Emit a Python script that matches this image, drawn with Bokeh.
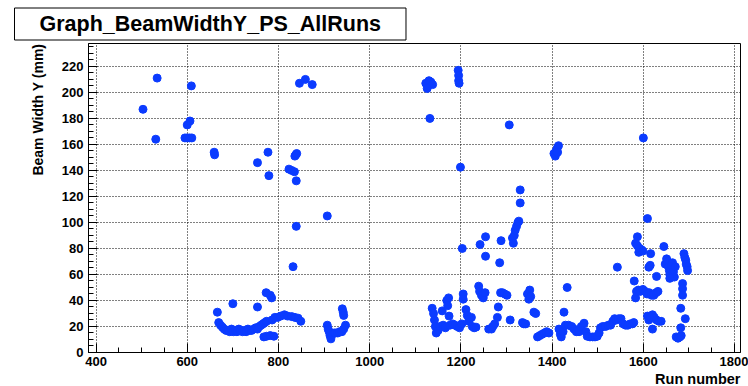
from bokeh.plotting import figure
from bokeh.models import Range1d, SingleIntervalTicker, Title, ColumnDataSource
from bokeh.embed import file_html
from bokeh.resources import INLINE

# Beam width (Y) measured by the PS monitor, one entry per run
run_early = [503, 531, 534, 595, 600, 605, 610, 600, 606, 609, 659, 660]
width_early = [187, 164, 211, 165, 165, 165, 165, 175, 178, 205, 154, 152]

run_700 = [666, 669, 673, 677, 681, 685, 689, 693, 697, 701, 705, 709, 713, 717, 721, 725,
           729, 733, 737, 741, 746, 750, 754, 758, 762, 766, 770, 774,
           700, 754, 754, 773, 777, 779, 782, 785,
           768, 774, 782, 790,
           786, 792, 798, 805, 813, 820, 829, 836, 843, 849,
           823, 829, 835, 839, 836, 838, 840, 839, 832, 846, 859, 874, 907]
width_700 = [31, 23, 21, 19.5, 18, 17, 17, 16, 18, 16, 17, 16, 18, 17, 16, 17,
             16, 18, 17, 17, 18, 19, 18, 20, 21, 22, 23, 24,
             37.5, 35, 146, 46, 154, 136, 44, 42,
             12, 12.5, 13, 12.5,
             25, 27, 27, 28, 29, 28, 27.6, 27, 26.4, 24,
             141, 140, 139, 132, 151, 152, 153, 97, 66, 207, 210, 206, 105]

run_900 = [907, 909, 911, 913, 915, 918, 922, 925, 930, 934, 939, 943, 947, 940, 942, 943]
width_900 = [21, 18, 16, 13, 10.5, 14, 15, 15, 15, 16, 16, 18, 21, 33.6, 31, 28.5]

run_1100_high = [1123, 1127, 1130, 1134, 1138, 1126, 1132, 1194, 1195, 1195, 1196, 1199, 1203]
width_1100_high = [207, 205, 209, 208, 206, 203, 180, 217, 213, 209, 207, 142.5, 80]

run_1100_low = [1137, 1140, 1142, 1144, 1146, 1150, 1154, 1159, 1161, 1166, 1169, 1171, 1173,
                1174, 1176, 1182, 1187, 1192, 1197, 1202, 1205, 1205, 1211, 1214, 1217, 1219,
                1223, 1225, 1229, 1233, 1239, 1241, 1245, 1249, 1253, 1261, 1267, 1270, 1274,
                1280, 1282, 1287, 1291, 1296, 1301, 1308, 1335, 1338, 1342, 1346, 1349, 1351,
                1353, 1360, 1364, 1368, 1373, 1378, 1383, 1388, 1393, 1415, 1418, 1420, 1424,
                1426, 1429, 1433, 1436, 1443, 1448, 1453, 1459, 1464, 1470, 1474, 1477, 1483,
                1489, 1494, 1499, 1503, 1506, 1511, 1517, 1523, 1528, 1533, 1537, 1541, 1546,
                1551, 1556, 1561, 1566, 1571, 1576, 1579]
width_1100_low = [34, 30, 25, 20, 15, 17, 20, 32, 21, 19, 40, 36, 42,
                  28, 21, 22, 21, 20, 19, 22, 45, 41, 33, 28.5, 24, 26,
                  27, 20, 19, 19.5, 51, 47, 44, 42, 46, 18, 18, 20, 22,
                  27, 35, 46, 46, 45, 44, 25, 23, 22, 22, 45, 41, 48,
                  43, 31, 30, 12, 13, 14, 15, 16, 15, 18, 14, 12, 16,
                  31, 21, 50, 21, 20, 18, 16, 16, 20, 22.5, 16, 12.5, 12,
                  12, 12, 12.5, 15, 19, 20, 20, 21, 21, 24, 26, 25, 26,
                  26, 22, 21, 21, 22, 22, 23]

run_1200_mid = [1242, 1254, 1254, 1285, 1288, 1313, 1315, 1317, 1319, 1322, 1325, 1327, 1330,
                1330, 1306, 1404, 1407, 1409, 1411, 1414, 1412, 1543]
width_1200_mid = [83, 89, 74, 69, 86, 88, 84, 90, 94, 97, 100, 101, 115,
                  125, 175, 153, 151, 155, 157, 159, 154, 65.6]

run_1600 = [1580, 1583, 1585, 1589, 1593, 1599, 1604, 1608, 1613, 1618, 1623, 1628, 1632,
            1583, 1587, 1587, 1590, 1592, 1596, 1599, 1600, 1609, 1612, 1615, 1616, 1629, 1645,
            1609, 1612, 1616, 1620, 1624, 1629, 1634, 1639, 1620,
            1648, 1651, 1653, 1655, 1657, 1658, 1660, 1662, 1664, 1666, 1668, 1670, 1658,
            1689, 1691, 1693, 1694, 1696, 1697,
            1686, 1686, 1686, 1682, 1692, 1682, 1672, 1676, 1680, 1683]
width_1600 = [55, 42, 47, 48, 47, 48.5, 47, 45, 46, 44, 44, 46, 47,
              84, 89, 82, 77, 80, 79, 78, 165, 103, 65.6, 67, 76, 58.5, 81.5,
              28, 25, 27, 29, 27, 25, 24, 24, 18,
              68, 72, 70, 66, 63, 60, 64, 67, 69, 62, 58, 66, 57,
              76, 73, 71, 68, 66, 63,
              53, 49, 44, 34, 26, 19, 12, 11, 12, 13]

runs = run_early + run_700 + run_900 + run_1100_high + run_1100_low + run_1200_mid + run_1600
widths = (width_early + width_700 + width_900 + width_1100_high + width_1100_low
          + width_1200_mid + width_1600)

FONT = "Liberation Sans"
MARKER = "#0b3bff"

p = figure(width=748, height=386, output_backend="svg", toolbar_location=None,
           title="Graph_BeamWidthY_PS_AllRuns",
           x_range=Range1d(383.5, 1813), y_range=Range1d(0, 237.6),
           min_border_left=88, min_border_right=8, min_border_top=43, min_border_bottom=34)
p.background_fill_color = "white"
p.border_fill_color = "white"
p.outline_line_color = "black"
p.outline_line_width = 1

src = ColumnDataSource(dict(run=runs, width=widths))
p.scatter("run", "width", source=src, size=8, marker="circle",
          fill_color=MARKER, line_color=MARKER)

# axes: ticks drawn inside the frame
p.xaxis.ticker = SingleIntervalTicker(interval=200, num_minor_ticks=4)
p.yaxis.ticker = SingleIntervalTicker(interval=20, num_minor_ticks=4)
for ax in (p.xaxis, p.yaxis):
    ax.major_tick_in = 9
    ax.major_tick_out = 0
    ax.minor_tick_in = 5
    ax.minor_tick_out = 0
    ax.major_tick_line_color = "black"
    ax.minor_tick_line_color = "black"
    ax.axis_line_color = "black"
    ax.major_label_text_font = FONT
    ax.major_label_text_font_style = "bold"
    ax.major_label_text_font_size = "13px"
    ax.major_label_text_color = "black"
p.xaxis.major_label_standoff = 4
p.yaxis.major_label_standoff = 5

p.xgrid.ticker = SingleIntervalTicker(interval=200)
p.ygrid.ticker = SingleIntervalTicker(interval=20)
for g in (p.xgrid, p.ygrid):
    g.grid_line_color = "black"
    g.grid_line_dash = "1 2"
    g.grid_line_width = 1

# graph title in a framed box at the top left
t = p.title
t.align = "left"
t.offset = -74
t.standoff = 7
t.text_font = FONT
t.text_font_style = "bold"
t.text_font_size = "21.5px"
t.text_color = "black"
t.background_fill_color = "white"
t.border_line_color = "black"
t.border_line_width = 1
t.padding = (25, 4)

# axis titles, placed at the far ends of the axes
p.add_layout(Title(text="Run number", align="right", standoff=0, text_color="black",
                   text_font=FONT, text_font_style="bold", text_font_size="14.5px"),
             "below")
p.add_layout(Title(text="Beam Width Y (mm)", align="right", standoff=26, text_color="black",
                   text_font=FONT, text_font_style="bold", text_font_size="14px"),
             "left")

open("out.html", "w").write(file_html(p, INLINE))
